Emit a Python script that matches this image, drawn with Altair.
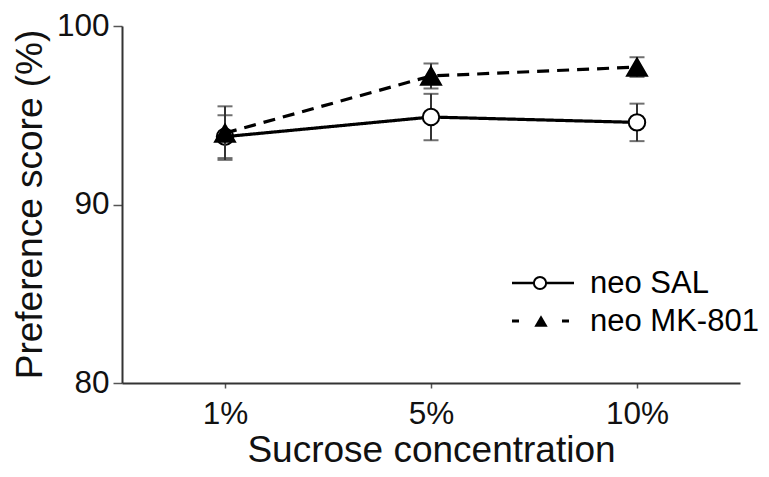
import altair as alt
import pandas as pd

categories = ["1%", "5%", "10%"]
series = ["neo SAL", "neo MK-801"]
sal_mean = [93.8, 94.9, 94.6]
sal_sem = [1.2, 1.3, 1.05]
mk_mean = [94.0, 97.2, 97.7]
mk_sem = [1.5, 0.7, 0.55]
y_ticks = [80, 90, 100]

FONT = "Liberation Sans"


def frame(name, means, sems):
    return pd.DataFrame({
        "conc": categories,
        "series": name,
        "mean": means,
        "lo": [m - s for m, s in zip(means, sems)],
        "hi": [m + s for m, s in zip(means, sems)],
    })


sal = frame(series[0], sal_mean, sal_sem)
mk = frame(series[1], mk_mean, mk_sem)

x_enc = alt.X(
    "conc:N", sort=categories,
    scale=alt.Scale(type="point", padding=0.5, domain=categories),
    axis=alt.Axis(
        title="Sucrose concentration", labelAngle=0, tickSize=5,
        labelBaseline="alphabetic", labelPadding=35,
        titleY=78, titleBaseline="alphabetic",
    ),
)
y_scale = alt.Scale(domain=[80, 100], nice=False, zero=False)
y_enc = alt.Y(
    "mean:Q", scale=y_scale,
    axis=alt.Axis(
        title="Preference score (%)", values=y_ticks, tickSize=9,
        labelPadding=4, titleX=-92, titleY=178, titleAngle=-90,
        titleAlign="center", titleBaseline="middle",
    ),
)


def series_layers(df, dash, shape, fill, size):
    base = alt.Chart(df)
    rule = base.mark_rule(color="#333", strokeWidth=2).encode(
        x=x_enc, y=alt.Y("lo:Q", scale=y_scale), y2="hi:Q")
    cap_lo = base.mark_tick(color="#333", thickness=2, size=15).encode(
        x=x_enc, y=alt.Y("lo:Q", scale=y_scale))
    cap_hi = base.mark_tick(color="#333", thickness=2, size=15).encode(
        x=x_enc, y=alt.Y("hi:Q", scale=y_scale))
    line = base.mark_line(color="black", strokeWidth=3.2, strokeDash=dash).encode(
        x=x_enc, y=y_enc)
    pts = base.mark_point(shape=shape, filled=True, fill=fill, stroke="black",
                          strokeWidth=2, size=size, opacity=1).encode(x=x_enc, y=y_enc)
    return [rule, cap_lo, cap_hi, line, pts]


layers = series_layers(sal, [1, 0], "circle", "white", 270) + \
    series_layers(mk, [12, 8], "triangle-up", "black", 400)

# manual legend
leg_sal = pd.DataFrame({"label": [series[0]]})
leg_mk = pd.DataFrame({"label": [series[1]]})
legend = [
    alt.Chart(leg_sal).mark_rule(color="black", strokeWidth=2.5).encode(
        x=alt.value(390), x2=alt.value(452), y=alt.value(257)),
    alt.Chart(leg_sal).mark_point(shape="circle", filled=True, fill="white",
                                  stroke="black", strokeWidth=2, size=150, opacity=1).encode(
        x=alt.value(418), y=alt.value(257)),
    alt.Chart(leg_sal).mark_text(align="left", baseline="middle", font=FONT,
                                 fontSize=31, color="black").encode(
        x=alt.value(468), y=alt.value(258), text="label:N"),
    alt.Chart(leg_mk).mark_rule(color="black", strokeWidth=3, strokeDash=[7, 43]).encode(
        x=alt.value(390), x2=alt.value(447), y=alt.value(295)),
    alt.Chart(leg_mk).mark_point(shape="triangle-up", filled=True, fill="black",
                                 size=180, opacity=1).encode(
        x=alt.value(419), y=alt.value(295)),
    alt.Chart(leg_mk).mark_text(align="left", baseline="middle", font=FONT,
                                fontSize=31, color="black").encode(
        x=alt.value(468), y=alt.value(296), text="label:N"),
]

chart = alt.layer(*layers, *legend).properties(
    width=618, height=357,
    autosize=alt.AutoSizeParams(type="none"),
    padding={"left": 114, "top": 18, "right": 20, "bottom": 86},
).configure_view(stroke=None).configure_axis(
    grid=False, domainColor="#333", domainWidth=2, tickColor="#555", tickWidth=1.5,
    labelFont=FONT, titleFont=FONT, labelFontSize=31.5, titleFontSize=37,
    labelColor="#111", titleColor="#111", titleFontWeight="normal",
)

chart.save("out.html", embed_options={"renderer": "svg", "actions": False})
